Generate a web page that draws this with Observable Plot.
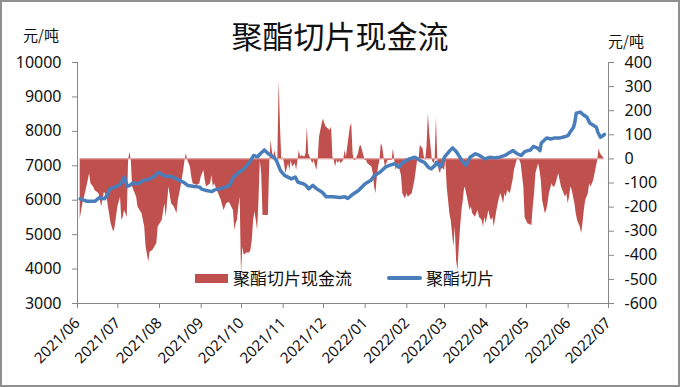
<!DOCTYPE html>
<html><head><meta charset="utf-8">
<script src="https://cdn.jsdelivr.net/npm/d3@7"></script>
<script src="https://cdn.jsdelivr.net/npm/@observablehq/plot@0.6"></script>
<style>
body{margin:0;background:#fff}
#wrap{position:relative;width:680px;height:387px;overflow:hidden;background:#fff}
.ov{position:absolute;font-family:"Noto Sans CJK SC","Noto Sans",sans-serif;white-space:nowrap;line-height:1;color:#111}
#border{position:absolute;left:0;top:0;width:680px;height:387px;box-sizing:border-box;border:2px solid #8f8f8f;pointer-events:none}
</style></head>
<body>
<div id="wrap"></div>
<script>
const priceDates = ["2021-06-03","2021-06-08","2021-06-14","2021-06-17","2021-06-21","2021-06-23","2021-06-25","2021-06-29","2021-07-03","2021-07-05","2021-07-06","2021-07-08","2021-07-10","2021-07-12","2021-07-16","2021-07-20","2021-07-25","2021-07-29","2021-07-31","2021-08-04","2021-08-07","2021-08-10","2021-08-19","2021-08-22","2021-08-27","2021-08-31","2021-09-01","2021-09-05","2021-09-09","2021-09-11","2021-09-15","2021-09-19","2021-09-22","2021-09-25","2021-09-29","2021-10-02","2021-10-05","2021-10-07","2021-10-10","2021-10-13","2021-10-15","2021-10-18","2021-10-21","2021-10-25","2021-10-27","2021-10-30","2021-11-02","2021-11-07","2021-11-10","2021-11-12","2021-11-16","2021-11-18","2021-11-20","2021-11-23","2021-11-26","2021-11-30","2021-12-03","2021-12-08","2021-12-13","2021-12-17","2021-12-19","2021-12-22","2021-12-27","2022-01-01","2022-01-05","2022-01-08","2022-01-12","2022-01-16","2022-01-19","2022-01-23","2022-01-26","2022-01-29","2022-02-03","2022-02-07","2022-02-11","2022-02-14","2022-02-17","2022-02-19","2022-02-22","2022-02-23","2022-02-26","2022-03-01","2022-03-05","2022-03-07","2022-03-10","2022-03-14","2022-03-17","2022-03-20","2022-03-24","2022-03-27","2022-03-31","2022-04-04","2022-04-07","2022-04-11","2022-04-15","2022-04-19","2022-04-21","2022-04-24","2022-04-27","2022-04-30","2022-05-04","2022-05-06","2022-05-09","2022-05-11","2022-05-12","2022-05-16","2022-05-19","2022-05-22","2022-05-26","2022-05-30","2022-06-01","2022-06-02","2022-06-05","2022-06-06","2022-06-07","2022-06-10","2022-06-12","2022-06-15","2022-06-17","2022-06-20","2022-06-22","2022-06-23","2022-06-25","2022-06-27","2022-06-28"];
const priceValues = [6040,5970,5970,6070,6040,6140,6330,6380,6460,6620,6670,6400,6430,6500,6480,6570,6620,6720,6810,6720,6690,6690,6520,6430,6400,6380,6330,6280,6250,6300,6330,6380,6430,6670,6810,6880,7010,7100,7300,7260,7350,7460,7350,7250,7150,6860,6720,6620,6670,6520,6480,6430,6330,6430,6330,6230,6100,6100,6080,6100,6050,6150,6280,6480,6570,6720,6810,6960,7010,7060,6960,7100,7200,7250,7150,7100,6960,6910,7010,7100,6960,7250,7440,7520,7400,7150,7010,7250,7350,7300,7200,7250,7230,7250,7300,7400,7440,7350,7300,7420,7460,7560,7520,7440,7660,7810,7780,7810,7810,7850,7880,7950,8120,8270,8530,8560,8490,8410,8240,8170,8120,7980,7830,7880,7910];

const cashDates = ["2021-06-03","2021-06-05","2021-06-08","2021-06-10","2021-06-11","2021-06-13","2021-06-14","2021-06-17","2021-06-19","2021-06-21","2021-06-23","2021-06-24","2021-06-26","2021-06-28","2021-06-29","2021-06-30","2021-07-01","2021-07-03","2021-07-04","2021-07-05","2021-07-06","2021-07-08","2021-07-09","2021-07-10","2021-07-11","2021-07-12","2021-07-13","2021-07-15","2021-07-16","2021-07-19","2021-07-21","2021-07-22","2021-07-24","2021-07-25","2021-07-27","2021-07-30","2021-07-31","2021-08-03","2021-08-05","2021-08-06","2021-08-08","2021-08-10","2021-08-12","2021-08-14","2021-08-15","2021-08-17","2021-08-19","2021-08-20","2021-08-21","2021-08-22","2021-08-24","2021-08-25","2021-08-26","2021-08-29","2021-08-31","2021-09-01","2021-09-03","2021-09-04","2021-09-05","2021-09-08","2021-09-09","2021-09-10","2021-09-11","2021-09-14","2021-09-16","2021-09-18","2021-09-20","2021-09-22","2021-09-25","2021-09-26","2021-09-27","2021-09-28","2021-09-29","2021-09-30","2021-10-01","2021-10-02","2021-10-03","2021-10-05","2021-10-07","2021-10-08","2021-10-09","2021-10-10","2021-10-11","2021-10-12","2021-10-13","2021-10-14","2021-10-15","2021-10-16","2021-10-17","2021-10-19","2021-10-21","2021-10-22","2021-10-23","2021-10-24","2021-10-25","2021-10-26","2021-10-27","2021-10-28","2021-10-29","2021-10-30","2021-10-31","2021-11-01","2021-11-02","2021-11-03","2021-11-05","2021-11-06","2021-11-07","2021-11-08","2021-11-10","2021-11-11","2021-11-12","2021-11-13","2021-11-14","2021-11-15","2021-11-17","2021-11-18","2021-11-19","2021-11-20","2021-11-22","2021-11-23","2021-11-24","2021-11-26","2021-11-27","2021-11-28","2021-11-30","2021-12-01","2021-12-02","2021-12-03","2021-12-06","2021-12-07","2021-12-08","2021-12-09","2021-12-10","2021-12-11","2021-12-12","2021-12-13","2021-12-14","2021-12-16","2021-12-17","2021-12-18","2021-12-21","2021-12-22","2021-12-23","2021-12-24","2021-12-25","2021-12-27","2021-12-28","2021-12-29","2021-12-30","2022-01-01","2022-01-02","2022-01-03","2022-01-06","2022-01-07","2022-01-08","2022-01-09","2022-01-10","2022-01-11","2022-01-12","2022-01-13","2022-01-14","2022-01-15","2022-01-16","2022-01-17","2022-01-18","2022-01-21","2022-01-22","2022-01-23","2022-01-24","2022-01-26","2022-01-27","2022-01-28","2022-01-29","2022-01-31","2022-02-01","2022-02-02","2022-02-05","2022-02-07","2022-02-08","2022-02-09","2022-02-10","2022-02-11","2022-02-13","2022-02-14","2022-02-15","2022-02-16","2022-02-17","2022-02-18","2022-02-20","2022-02-21","2022-02-22","2022-02-23","2022-02-24","2022-02-25","2022-02-26","2022-02-27","2022-03-01","2022-03-02","2022-03-03","2022-03-05","2022-03-06","2022-03-07","2022-03-08","2022-03-09","2022-03-10","2022-03-11","2022-03-12","2022-03-13","2022-03-14","2022-03-15","2022-03-16","2022-03-17","2022-03-19","2022-03-20","2022-03-21","2022-03-22","2022-03-24","2022-03-25","2022-03-26","2022-03-27","2022-03-29","2022-03-30","2022-03-31","2022-04-01","2022-04-03","2022-04-04","2022-04-05","2022-04-06","2022-04-07","2022-04-09","2022-04-10","2022-04-11","2022-04-12","2022-04-14","2022-04-15","2022-04-16","2022-04-17","2022-04-19","2022-04-20","2022-04-21","2022-04-22","2022-04-24","2022-04-25","2022-04-26","2022-04-27","2022-04-29","2022-04-30","2022-05-02","2022-05-05","2022-05-06","2022-05-07","2022-05-08","2022-05-10","2022-05-11","2022-05-12","2022-05-13","2022-05-15","2022-05-16","2022-05-17","2022-05-18","2022-05-20","2022-05-21","2022-05-22","2022-05-23","2022-05-25","2022-05-26","2022-05-27","2022-05-28","2022-05-29","2022-05-30","2022-05-31","2022-06-01","2022-06-02","2022-06-03","2022-06-04","2022-06-05","2022-06-06","2022-06-07","2022-06-08","2022-06-10","2022-06-11","2022-06-12","2022-06-13","2022-06-14","2022-06-16","2022-06-17","2022-06-18","2022-06-20","2022-06-21","2022-06-22","2022-06-23","2022-06-24","2022-06-25","2022-06-27","2022-06-28"];
const cashValues = [-250,-186,-117,-62,-103,-117,-131,-145,-200,-138,-159,-200,-269,-304,-283,-242,-200,-159,-256,-242,-214,-242,-7,28,-7,-117,-131,-159,-200,-228,-283,-366,-428,-387,-380,-352,-283,-256,-186,-242,-117,-186,-200,-228,-173,-117,-48,-7,21,-7,-34,-76,-103,-110,-103,-76,-48,-90,-117,-103,-69,-117,-103,-145,-173,-214,-186,-180,-214,-297,-269,-256,-200,-159,-480,-366,-400,-390,-390,-380,-339,-256,-220,-256,-297,-173,-7,-62,-235,-235,-235,-20,76,28,7,35,0,-7,325,132,-7,7,-20,-62,-20,-48,-7,-34,-20,-48,-7,35,7,14,7,21,132,21,-7,-20,-7,-48,-7,90,146,166,146,132,118,132,7,-7,-34,-7,-20,-7,-20,-7,35,7,132,146,21,-7,-7,21,49,56,35,-7,-7,-20,-34,-62,-117,-145,-76,-34,-7,63,49,7,-34,-20,-7,-7,42,-7,-48,-20,-48,-69,-145,-166,-145,-159,-145,-90,-48,-7,-7,56,42,7,-7,49,187,104,-7,-20,-7,173,-7,-48,-62,-34,-48,-7,-117,-228,-256,-311,-366,-283,-422,-465,-366,-283,-214,-173,-117,-131,-186,-214,-200,-228,-242,-228,-214,-242,-256,-283,-242,-269,-214,-242,-256,-242,-283,-214,-186,-159,-145,-186,-145,-159,-131,-145,-117,-90,-48,-7,7,-7,-20,-117,-245,-269,-276,-200,-145,-62,-20,-48,-90,-173,-228,-214,-186,-145,-103,-117,-117,-103,-62,-90,-117,-131,-145,-159,-145,-186,-159,-117,-131,-159,-186,-228,-256,-283,-311,-269,-214,-173,-145,-103,-117,-90,-62,-34,-7,42,21,7,0];

const leftTicks = [3000,4000,5000,6000,7000,8000,9000,10000];
const rightTicks = [-600,-500,-400,-300,-200,-100,0,100,200,300,400];
const monthTicks = ["2021-06-01","2021-07-01","2021-08-01","2021-09-01","2021-10-01","2021-11-01","2021-12-01","2022-01-01","2022-02-01","2022-03-01","2022-04-01","2022-05-01","2022-06-01","2022-07-01"];
const titleText = "聚酯切片现金流";
const unitText = "元/吨";
const seriesNames = ["聚酯切片现金流","聚酯切片"];
const seriesColors = ["#C0504D","#4A7EBB"];

// right axis (cash flow) maps onto left axis: 0 -> 7200, 100 -> 700
const rBase = 7200, rScale = 7;
const toLeft = v => rBase + v * rScale;

const parse = d3.utcParse("%Y-%m-%d");
const price = priceDates.map((d,i)=>({date: parse(d), v: priceValues[i]}));
const cash = cashDates.map((d,i)=>({date: parse(d), v: cashValues[i]}));
const months = monthTicks.map(parse);
const xDomain = [months[0], months[months.length-1]];
const axisColor = "#868686";

const chart = Plot.plot({
  width: 680, height: 387,
  marginLeft: 77, marginRight: 72, marginTop: 62, marginBottom: 84,
  style: {fontFamily: "Noto Sans", background: "transparent", color: "#111"},
  x: {type: "utc", domain: xDomain},
  y: {domain: [3000, 10000]},
  marks: [
    Plot.areaY(cash, {x: "date", y1: () => rBase, y2: d => toLeft(d.v), fill: seriesColors[0], curve: "linear"}),
    Plot.ruleY([rBase], {x1: cash[0].date, x2: cash[cash.length-1].date, stroke: "#E3A09E", strokeWidth: 1}),
    Plot.lineY(price, {x: "date", y: "v", stroke: seriesColors[1], strokeWidth: 3.5, strokeLinejoin: "round", strokeLinecap: "round"}),
    Plot.ruleX([xDomain[0]], {stroke: axisColor}),
    Plot.ruleX([xDomain[1]], {stroke: axisColor}),
    Plot.ruleY([3000], {stroke: axisColor}),
    Plot.axisY(leftTicks, {anchor: "left", tickSize: 5, tickPadding: 11, fontSize: 16, stroke: axisColor, fill: "#111", label: null, tickFormat: d => String(d)}),
    Plot.axisY(rightTicks.map(toLeft), {anchor: "right", tickSize: 5, tickPadding: 11, fontSize: 16, stroke: axisColor, fill: "#111", label: null, tickFormat: d => String(Math.round((d - rBase) / rScale))}),
    Plot.axisX(months, {anchor: "bottom", tickSize: 5, tickPadding: 12, tickRotate: -45, fontSize: 15, stroke: axisColor, fill: "#111", label: null, tickFormat: d3.utcFormat("%Y/%m")})
  ]
});

const wrap = document.getElementById("wrap");
wrap.appendChild(chart);
chart.style.position = "absolute"; chart.style.left = "0"; chart.style.top = "0";

function ov(html, css){ const e=document.createElement("div"); e.className="ov"; e.innerHTML=html; Object.assign(e.style, css); wrap.appendChild(e); return e; }
ov(titleText, {left:"0", width:"680px", textAlign:"center", top:"19px", fontSize:"31px"});
ov(unitText, {left:"23px", top:"27px", fontSize:"15px"});
ov(unitText, {left:"608px", top:"33px", fontSize:"15px"});
// legend
ov('<span style="display:inline-block;width:33px;height:9px;background:'+seriesColors[0]+';vertical-align:middle;margin-right:5px;position:relative;top:-2px"></span>'+seriesNames[0], {left:"195px", top:"269px", fontSize:"17px"});
ov('<span style="display:inline-block;width:35px;height:4px;background:'+seriesColors[1]+';vertical-align:middle;margin-right:4px;position:relative;top:-2px;border-radius:2px"></span>'+seriesNames[1], {left:"387px", top:"269px", fontSize:"17px"});
const b=document.createElement("div"); b.id="border"; wrap.appendChild(b);
</script>
</body></html>
